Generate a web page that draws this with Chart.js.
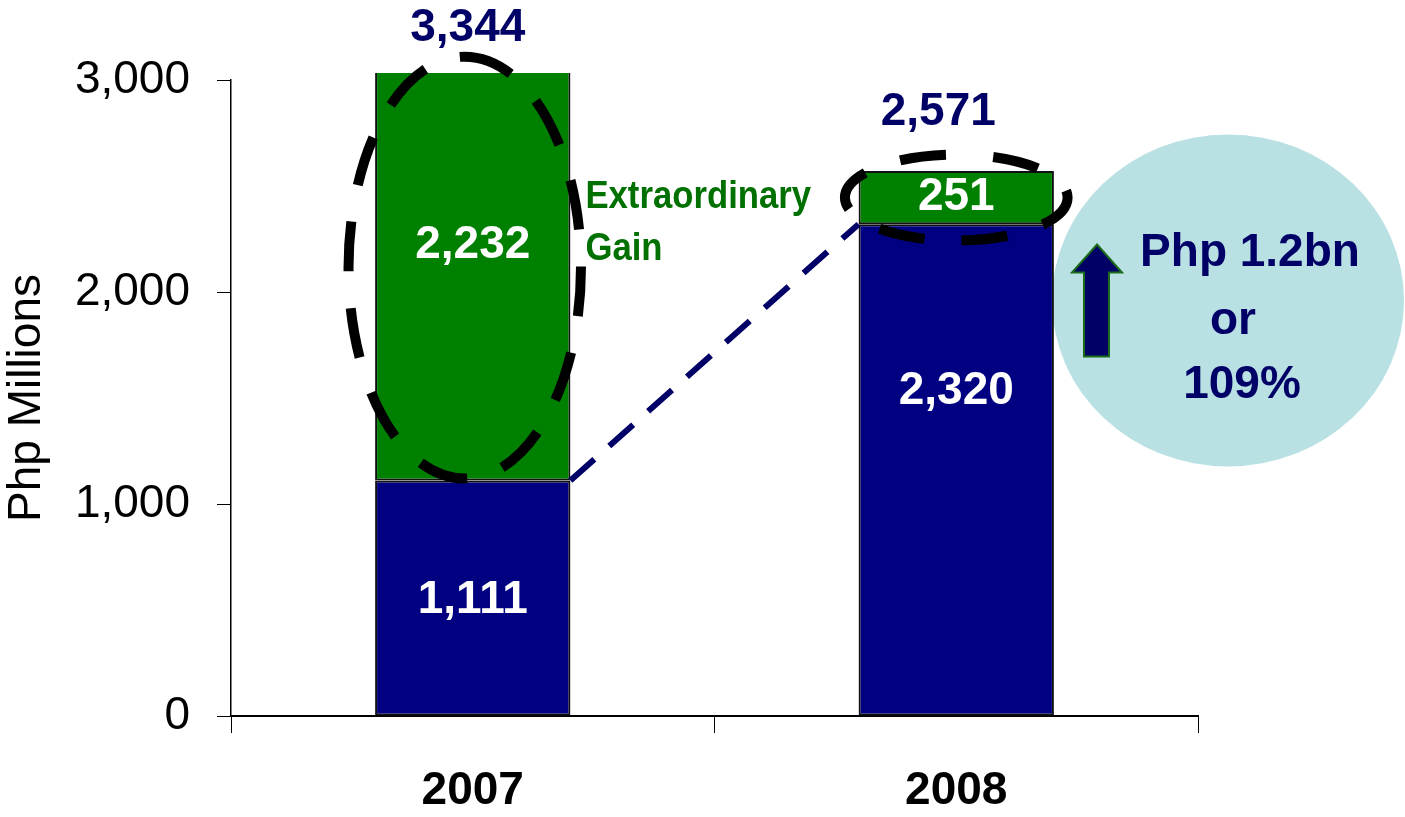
<!DOCTYPE html>
<html>
<head>
<meta charset="utf-8">
<script src="https://cdn.jsdelivr.net/npm/chart.js@4.4.0/dist/chart.umd.min.js"></script>
<style>
  html, body { margin: 0; padding: 0; background: #fff; }
  #wrap { width: 1405px; height: 817px; }
</style>
</head>
<body>
<div id="wrap"><canvas id="chart" width="1405" height="817"></canvas></div>
<script>
const years       = ["2007", "2008"];
const coreIncome  = [1111, 2320];
const extraGain   = [2232, 251];
const totals      = [3344, 2571];
const yTickValues = [0, 1000, 2000, 3000];
const gainLabel   = ["Extraordinary", "Gain"];
const growthLines = ["Php 1.2bn", "or", "109%"];

const NAVY = "#000080", GREEN = "#008000", INK = "#000066", SKY = "#b9e0e3";
const FONT = "'Liberation Sans', Arial, sans-serif";
const OVERSHOOT = 7;   // px the clipped 2007 stack pokes above the axis

function fmt(n) {
  return Number(n).toLocaleString("en-US");
}

function dashedEllipse(ctx, cx, cy, rx, ry, dash, offset, width, color) {
  ctx.save();
  ctx.beginPath();
  ctx.setLineDash(dash);
  ctx.lineDashOffset = offset;
  ctx.lineWidth = width;
  ctx.strokeStyle = color;
  ctx.ellipse(cx, cy, rx, ry, 0, -Math.PI / 2, Math.PI * 1.5);
  ctx.stroke();
  ctx.restore();
}

function text(ctx, str, x, y, size, color, align) {
  ctx.font = `bold ${size}px ${FONT}`;
  ctx.fillStyle = color;
  ctx.textAlign = align || "center";
  ctx.textBaseline = "middle";
  ctx.fillText(str, x, y);
}

// ── Annotations (labels, ellipses, growth bubble) ───────────────

const annotations = {
  id: "annotations",
  beforeDatasetsDraw(chart) {
    const { ctx, chartArea, scales: { y } } = chart;
    // growth bubble sits behind the 2008 bar
    const cx = chartArea.right + 30, cy = y.getPixelForValue(1960);
    ctx.save();
    ctx.fillStyle = SKY;
    ctx.beginPath();
    ctx.ellipse(cx, cy, 176, 166, 0, 0, Math.PI * 2);
    ctx.fill();
    ctx.restore();
  },
  afterDatasetsDraw(chart) {
    const { ctx, chartArea, scales: { y } } = chart;
    const core = chart.getDatasetMeta(0).data;
    const gain = chart.getDatasetMeta(1).data;
    const visTop = chartArea.top - OVERSHOOT;

    // values inside the segments
    const nudge = [[2, -31], [-79, 0]];   // [core, gain] per year
    [core, gain].forEach((bars, d) => {
      bars.forEach((b, i) => {
        const top = Math.max(b.y, visTop);
        const mid = (top + b.base) / 2 + nudge[i][d];
        const v = d === 0 ? coreIncome[i] : extraGain[i];
        text(ctx, fmt(v), b.x, mid, 46, "#fff");
      });
    });

    // totals above the stacks
    const totalPos = [[-5, -45], [-18, -59]];
    gain.forEach((b, i) => {
      const top = Math.max(b.y, visTop);
      text(ctx, fmt(totals[i]), b.x + totalPos[i][0], top + totalPos[i][1], 46, INK);
    });

    // "Extraordinary Gain" (narrow bold)
    const g0 = gain[0];
    ctx.save();
    ctx.font = `bold 39px ${FONT}`;
    ctx.fillStyle = "#007000";
    ctx.textAlign = "left";
    ctx.textBaseline = "alphabetic";
    ctx.translate(g0.x + g0.width / 2 + 15, 0);
    ctx.scale(0.89, 1);
    ctx.fillText(gainLabel[0], 0, y.getPixelForValue(2396));
    ctx.fillText(gainLabel[1], 0, y.getPixelForValue(2151));
    ctx.restore();

    // dashed link from 2007 core top to 2008 core top
    ctx.save();
    ctx.strokeStyle = INK;
    ctx.lineWidth = 6;
    ctx.setLineDash([32, 20]);
    ctx.beginPath();
    ctx.moveTo(core[0].x + core[0].width / 2, y.getPixelForValue(coreIncome[0]));
    ctx.lineTo(core[1].x - core[1].width / 2, y.getPixelForValue(coreIncome[1]));
    ctx.stroke();
    ctx.restore();

    // dashed ellipses around the extraordinary gains
    const e0top = y.getPixelForValue(3110), e0bot = y.getPixelForValue(1120);
    dashedEllipse(ctx, g0.x - 8, (e0top + e0bot) / 2, g0.width * 0.595, (e0bot - e0top) / 2, [50, 37], 0, 10, "#000");
    const g1 = gain[1];
    dashedEllipse(ctx, g1.x, (g1.y + g1.base) / 2, g1.width * 0.57, 43, [46, 37], 46, 10, "#000");

    // arrow + growth text inside the bubble
    const cx = chartArea.right + 30, cy = y.getPixelForValue(1960);
    const ax = cx - 131, tipY = cy - 56;
    ctx.save();
    ctx.beginPath();
    ctx.moveTo(ax, tipY);
    ctx.lineTo(ax + 25, tipY + 28);
    ctx.lineTo(ax + 12, tipY + 28);
    ctx.lineTo(ax + 12, tipY + 112);
    ctx.lineTo(ax - 13, tipY + 112);
    ctx.lineTo(ax - 13, tipY + 28);
    ctx.lineTo(ax - 25, tipY + 28);
    ctx.closePath();
    ctx.fillStyle = INK;
    ctx.fill();
    ctx.lineWidth = 2;
    ctx.strokeStyle = "#1a6b1a";
    ctx.stroke();
    ctx.restore();

    text(ctx, growthLines[0], cx + 22, cy - 47, 46, INK);
    text(ctx, growthLines[1], cx + 5, cy + 21, 46, INK);
    text(ctx, growthLines[2], cx + 14, cy + 85, 46, INK);
  }
};

const barStyle = {
  borderColor: "#111",
  borderWidth: 2,
  borderSkipped: false,
  clip: { left: 0, top: OVERSHOOT, right: 0, bottom: 0 },
  categoryPercentage: 1,
  barPercentage: 0.404,
};

new Chart(document.getElementById("chart"), {
  type: "bar",
  data: {
    labels: years,
    datasets: [
      { label: "Core income", data: coreIncome, backgroundColor: NAVY, ...barStyle },
      { label: "Extraordinary gain", data: extraGain, backgroundColor: GREEN, ...barStyle },
    ],
  },
  options: {
    responsive: false,
    animation: false,
    layout: { padding: { top: 80, right: 207, left: 0, bottom: 0 } },
    plugins: { legend: { display: false }, tooltip: { enabled: false } },
    scales: {
      x: {
        stacked: true,
        grid: { offset: true, drawOnChartArea: false, tickLength: 17, color: "#000" },
        border: { color: "#000", width: 2 },
        ticks: { color: "#000", font: { family: FONT, size: 46, weight: "bold" }, padding: 31, maxRotation: 0 },
        afterFit: s => { s.height = 101; },
      },
      y: {
        stacked: true,
        min: 0,
        max: 3000,
        afterBuildTicks: s => { s.ticks = yTickValues.map(v => ({ value: v })); },
        grid: { drawOnChartArea: false, tickLength: 14, color: "#000" },
        border: { color: "#000", width: 1.5 },
        ticks: { color: "#000", font: { family: FONT, size: 46 }, padding: 27, callback: v => fmt(v) },
        title: { display: true, text: "Php Millions", color: "#000", font: { family: FONT, size: 46 }, padding: 0 },
        afterFit: s => { s.width = 231; },
      },
    },
  },
  plugins: [annotations],
});
</script>
</body>
</html>
